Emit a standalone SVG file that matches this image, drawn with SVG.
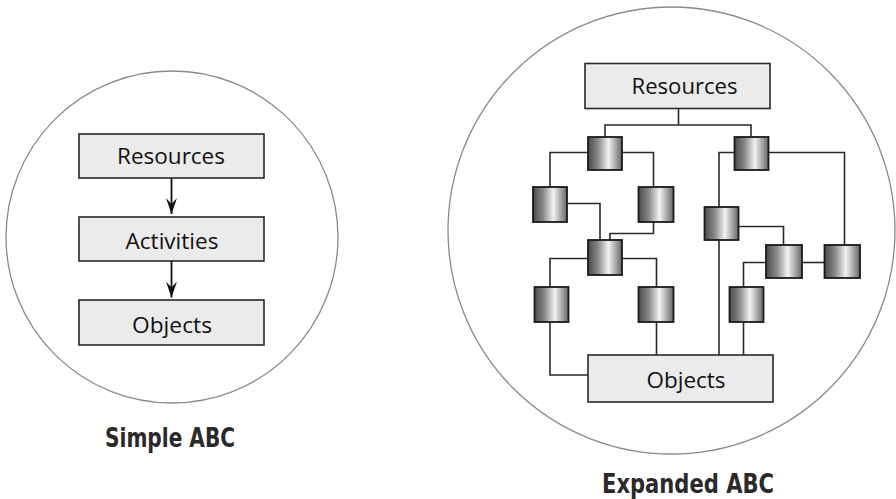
<svg xmlns="http://www.w3.org/2000/svg" width="896" height="499" viewBox="0 0 896 499">
  <defs>
    <linearGradient id="cyl" x1="0" y1="0" x2="1" y2="0">
      <stop offset="0" stop-color="#4a4a4a"/>
      <stop offset="0.3" stop-color="#8a8a8a"/>
      <stop offset="0.6" stop-color="#f2f2f2"/>
      <stop offset="1" stop-color="#666666"/>
    </linearGradient>
    <marker id="arr" viewBox="0 0 16 12" refX="16" refY="6" markerWidth="16" markerHeight="12" markerUnits="userSpaceOnUse" orient="auto">
      <path d="M16,6 L0,0.5 L6,6 L0,11.5 Z" fill="#111"/>
    </marker>
    <style>
      .ring { fill: none; stroke: #8a8a8a; stroke-width: 1.3; }
      .box { fill: #ebebeb; stroke: #2a2a2a; stroke-width: 1.6; }
      .cyl { fill: url(#cyl); stroke: #1a1a1a; stroke-width: 1.8; }
      .lbl { font-family: "Open Sans", "Noto Sans", "DejaVu Sans", sans-serif; font-size: 21px; fill: #111; text-anchor: middle; }
      .title { font-family: "DejaVu Sans Condensed", "DejaVu Sans", sans-serif; font-weight: bold; font-stretch: condensed; font-size: 27px; fill: #2a2a2a; text-anchor: middle; }
      .wire { fill: none; stroke: #2a2a2a; stroke-width: 1.6; }
      .arrow { fill: none; stroke: #111; stroke-width: 1.8; marker-end: url(#arr); }
    </style>
  </defs>

  <rect width="896" height="499" fill="#ffffff"/>

  <!-- Simple ABC -->
  <g id="simple-circle">
    <circle class="ring" cx="172" cy="237" r="166"/>
  </g>
  <g id="s-resources">
    <rect class="box" x="79" y="134" width="185" height="44"/>
    <text class="lbl" x="171" y="163.5" textLength="108" lengthAdjust="spacingAndGlyphs">Resources</text>
  </g>
  <g id="s-activities">
    <rect class="box" x="79" y="217" width="185" height="44"/>
    <text class="lbl" x="172" y="248.5" textLength="93" lengthAdjust="spacingAndGlyphs">Activities</text>
  </g>
  <g id="s-objects">
    <rect class="box" x="79" y="300" width="185" height="45"/>
    <text class="lbl" x="172" y="332.5" textLength="80" lengthAdjust="spacingAndGlyphs">Objects</text>
  </g>
  <g id="s-connectors">
    <line class="arrow" x1="171.5" y1="178" x2="171.5" y2="214"/>
    <line class="arrow" x1="171.5" y1="261" x2="171.5" y2="297.5"/>
  </g>
  <text class="title" x="170" y="447" textLength="130" lengthAdjust="spacingAndGlyphs">Simple ABC</text>

  <!-- Expanded ABC -->
  <g id="expanded-circle">
    <circle class="ring" cx="671.5" cy="230.5" r="223.5"/>
  </g>

  <g id="e-connectors">
    <path class="wire" d="M678.5,108 V125 M605,137 V125 H751 V137"/>
    <path class="wire" d="M588,152.5 H550 V187"/>
    <path class="wire" d="M622,152.5 H653.5 V187"/>
    <path class="wire" d="M567,203.5 H600 V240"/>
    <path class="wire" d="M653.5,222 V233.5 H610 V240"/>
    <path class="wire" d="M588,258.5 H550 V287"/>
    <path class="wire" d="M622,258.5 H656.5 V287"/>
    <path class="wire" d="M550,322 V375 H588"/>
    <path class="wire" d="M656.5,322 V355"/>
    <path class="wire" d="M734,152.5 H719 V207"/>
    <path class="wire" d="M769,152.5 H844.5 V245"/>
    <path class="wire" d="M719,240 V355"/>
    <path class="wire" d="M738.5,226.5 H783.5 V245"/>
    <path class="wire" d="M766,262.5 H743.5 V287"/>
    <path class="wire" d="M802,262.5 H824"/>
    <path class="wire" d="M743.5,322 V355"/>
  </g>

  <g id="e-resources">
    <rect class="box" x="585" y="63.5" width="185" height="45"/>
    <text class="lbl" x="684.5" y="93.8" textLength="106" lengthAdjust="spacingAndGlyphs">Resources</text>
  </g>
  <g id="e-objects">
    <rect class="box" x="588" y="355" width="185" height="47"/>
    <text class="lbl" x="686" y="387.5" textLength="79" lengthAdjust="spacingAndGlyphs">Objects</text>
  </g>

  <g id="a1"><rect class="cyl" x="588" y="137" width="34" height="33"/></g>
  <g id="a2"><rect class="cyl" x="734.5" y="137" width="34" height="33"/></g>
  <g id="a3"><rect class="cyl" x="533" y="187" width="34" height="35"/></g>
  <g id="a4"><rect class="cyl" x="638.5" y="187" width="35" height="35"/></g>
  <g id="a5"><rect class="cyl" x="704.5" y="207" width="34" height="33"/></g>
  <g id="a6"><rect class="cyl" x="588" y="240" width="34" height="35"/></g>
  <g id="a7"><rect class="cyl" x="766" y="245" width="36" height="33"/></g>
  <g id="a8"><rect class="cyl" x="824.5" y="245" width="35.5" height="33"/></g>
  <g id="a9"><rect class="cyl" x="534.5" y="287" width="34" height="35"/></g>
  <g id="a10"><rect class="cyl" x="638.5" y="287" width="35" height="35"/></g>
  <g id="a11"><rect class="cyl" x="729.5" y="287" width="34" height="35"/></g>

  <text class="title" x="688" y="493" textLength="172" lengthAdjust="spacingAndGlyphs">Expanded ABC</text>
</svg>
